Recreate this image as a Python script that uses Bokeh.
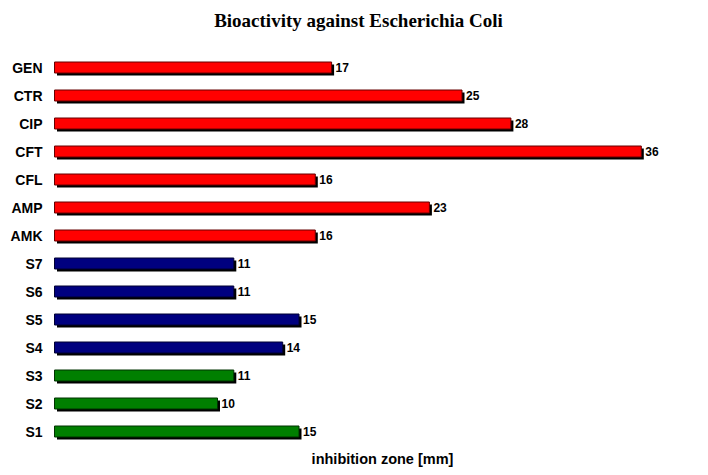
from bokeh.plotting import figure
from bokeh.models import ColumnDataSource, Range1d
from bokeh.core.properties import value
from bokeh.embed import file_html
from bokeh.resources import INLINE

categories = ["S1", "S2", "S3", "S4", "S5", "S6", "S7", "AMK", "AMP", "CFL", "CFT", "CIP", "CTR", "GEN"]
values = [15, 10, 11, 14, 15, 11, 11, 16, 23, 16, 36, 28, 25, 17]
colors = ["#007F00"] * 3 + ["#00007F"] * 4 + ["#FF0000"] * 7
outlines = ["#003300"] * 3 + ["#000033"] * 4 + ["#660000"] * 7
title_text = "Bioactivity against Escherichia Coli"
xlabel_text = "inhibition zone [mm]"

W, H = 700, 472
px_x = 16.3   # px per mm
px_y = 28.0   # px per row
x0 = -54 / px_x
y_top = 431 / px_y
y_bottom = y_top - H / px_y

p = figure(width=W, height=H, output_backend="svg", toolbar_location=None,
           x_range=Range1d(x0, x0 + W / px_x), y_range=Range1d(y_bottom, y_top),
           min_border=0, outline_line_color=None)
p.axis.visible = False
p.grid.visible = False

ys = list(range(len(categories)))
src = ColumnDataSource(dict(
    y=ys, v=values, c=colors, o=outlines, cat=categories,
    ys=[y - 2.5 / px_y for y in ys], vs=[v + 2.5 / px_x for v in values],
    xs=[2.5 / px_x] * len(ys),
    lx=[v + 4 / px_x for v in values], lab=[str(v) for v in values],
    cx=[(42 - 54) / px_x] * len(ys),
))
bh = 11 / px_y
# shadow
p.hbar(y="ys", left="xs", right="vs", height=bh, source=src, fill_color="black", line_color=None)
# bars
p.hbar(y="y", left=0, right="v", height=bh, source=src, fill_color="c", line_color="o", line_width=1)
# value labels
p.text(x="lx", y="y", text="lab", source=src, text_font=value("Liberation Sans"),
       text_font_style="bold", text_font_size="12px", text_baseline="middle", text_align="left",
       text_color="black")
# category labels
p.text(x="cx", y="y", text="cat", source=src, text_font=value("Liberation Sans"),
       text_font_style="bold", text_font_size="14px", text_baseline="middle", text_align="right",
       text_color="black")
# title
p.text(x=[(358 - 54) / px_x], y=[(431 - 20) / px_y], text=[title_text],
       text_font=value("Liberation Serif"), text_font_style="bold", text_font_size="19px",
       text_baseline="middle", text_align="center", text_color="black")
# x axis label
p.text(x=[(382 - 54) / px_x], y=[(431 - 458) / px_y], text=[xlabel_text],
       text_font=value("Liberation Sans"), text_font_style="bold", text_font_size="14.5px",
       text_baseline="middle", text_align="center", text_color="black")

open("out.html", "w").write(file_html(p, INLINE))
